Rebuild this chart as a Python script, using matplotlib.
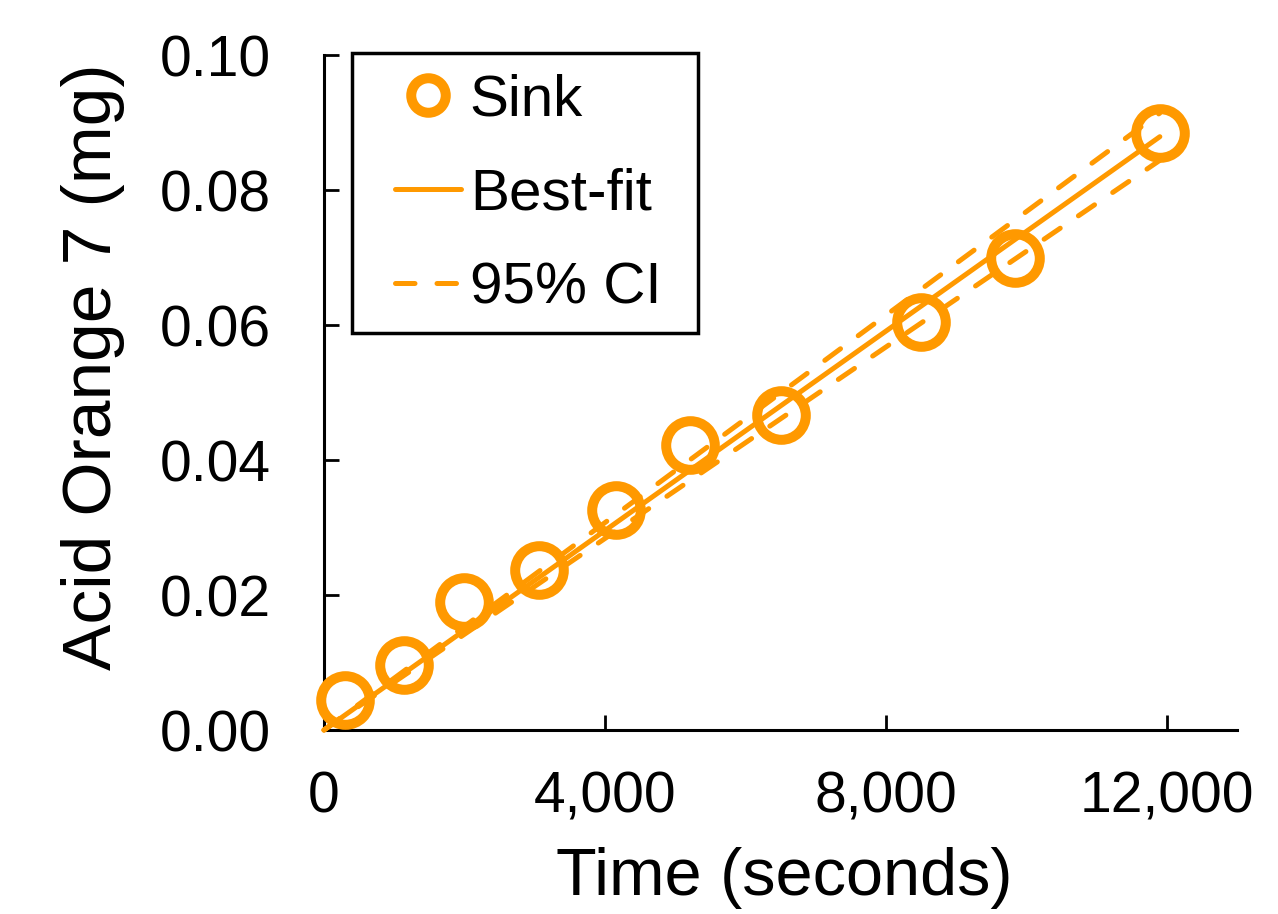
import matplotlib.pyplot as plt
from matplotlib.patches import Rectangle
from matplotlib.ticker import FuncFormatter

plt.rcParams['font.family'] = ['Liberation Sans', 'DejaVu Sans']

# measured points (time in s, mass in mg)
time_s = [300, 1140, 1990, 3060, 4160, 5210, 6500, 8500, 9840, 11900]
dye_mg = [0.0044, 0.0096, 0.0190, 0.0237, 0.0326, 0.0422, 0.0467, 0.0604, 0.0699, 0.0884]

# best-fit line and 95% CI (through origin), read at the end points
fit_t = [0, 11900]
fit_y = [0.0, 0.0879]
ci_hi = [0.0, 0.0914]
ci_lo = [0.0, 0.0844]

orange = '#FF9900'

fig = plt.figure(figsize=(12.78, 9.14), dpi=100)
ax = fig.add_axes([0.2535, 0.2013, 0.7145, 0.7385])

ax.plot(time_s, dye_mg, 'o', ms=35, mfc='none', mec=orange, mew=7.2,
        label='Sink', zorder=4, clip_on=False)
ax.plot(fit_t, fit_y, '-', color=orange, lw=3.6, solid_capstyle='round',
        label='Best-fit', zorder=3, clip_on=False)
ax.plot(fit_t, ci_hi, '--', color=orange, lw=3.6, dashes=(3.9, 4.4),
        dash_capstyle='round', label='95% CI', zorder=3, clip_on=False)
ax.plot(fit_t, ci_lo, '--', color=orange, lw=3.6, dashes=(3.9, 4.4),
        dash_capstyle='round', zorder=3, clip_on=False)

ax.set_xlim(0, 13000)
ax.set_ylim(0, 0.10)
ax.set_xticks([0, 4000, 8000, 12000])
ax.set_yticks([0, 0.02, 0.04, 0.06, 0.08, 0.10])
ax.xaxis.set_major_formatter(FuncFormatter(lambda v, p: f'{v:,.0f}'))
ax.yaxis.set_major_formatter(FuncFormatter(lambda v, p: f'{v:.2f}'))

for s in ['top', 'right']:
    ax.spines[s].set_visible(False)
for s in ['left', 'bottom']:
    ax.spines[s].set_linewidth(2.2)
ax.tick_params(direction='in', length=11, width=2, labelsize=41)
ax.tick_params(axis='x', pad=29)
ax.tick_params(axis='y', pad=38)

ax.set_xlabel('Time (seconds)', fontsize=48)
ax.xaxis.set_label_coords(0.504, -0.174)
ax.set_ylabel('Acid Orange 7 (mg)', fontsize=50)
ax.yaxis.set_label_coords(-0.218, 0.538)

leg = ax.legend(loc='upper left', bbox_to_anchor=(0.078, 0.973), fontsize=42,
                frameon=False, handlelength=1.12, handletextpad=0.16,
                labelspacing=0.69, borderpad=0, markerscale=0.71,
                borderaxespad=0)
# legend frame drawn separately (wider side padding than top/bottom)
ax.add_patch(Rectangle((0.0307, 0.588), 0.379, 0.415, transform=ax.transAxes,
                       fill=False, edgecolor='black', lw=2.5, zorder=5,
                       clip_on=False))

fig.savefig('out.png', dpi=100, facecolor='white')
